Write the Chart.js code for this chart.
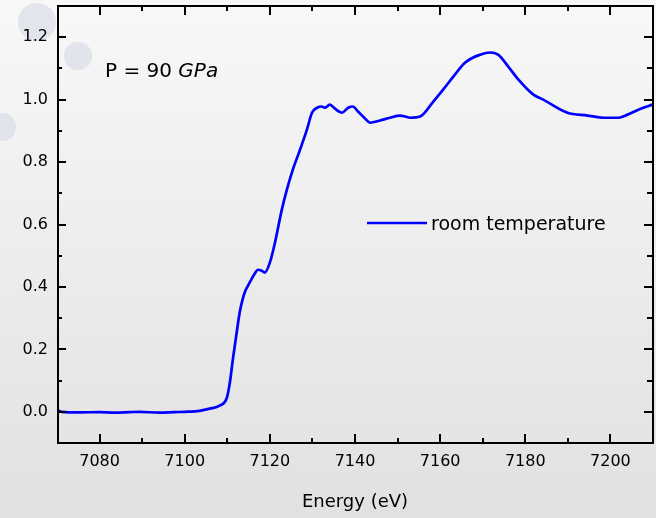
<!DOCTYPE html>
<html>
<head>
<meta charset="utf-8">
<title>XANES 90 GPa</title>
<script src="https://cdn.jsdelivr.net/npm/chart.js@4.4.1/dist/chart.umd.min.js"></script>
<style>
  html, body { margin: 0; padding: 0; }
  body { width: 656px; height: 518px; overflow: hidden; }
</style>
</head>
<body>
<canvas id="xanes" width="656" height="518"></canvas>
<script>
// -------------------- Spectrum data --------------------
const energy = [
  7070.1, 7071.1, 7075.3, 7080.0, 7083.5, 7087.1, 7089.4, 7094.1, 7097.6, 7100.0,
  7103.5, 7105.9, 7108.2, 7109.9, 7110.6, 7111.3, 7112.2, 7112.9, 7113.6, 7114.2,
  7114.9, 7115.7, 7116.5, 7117.2, 7118.1, 7118.8, 7120.0, 7121.2, 7122.8, 7124.0,
  7125.4, 7127.1, 7128.7, 7129.9, 7131.1, 7132.2, 7132.9, 7134.1, 7135.3, 7136.9,
  7138.4, 7139.5, 7140.7, 7142.4, 7143.5, 7145.9, 7148.2, 7150.6, 7151.8, 7152.9,
  7155.3, 7158.4, 7160.7, 7163.1, 7165.9, 7169.4, 7171.8, 7173.6, 7176.0, 7178.4,
  7181.9, 7184.2, 7189.9, 7194.6, 7198.4, 7201.9, 7204.0, 7207.1, 7209.9
];
const absorption = [
  0.006, 0.000, -0.002, -0.001, -0.003, -0.001, 0.000, -0.003, -0.001, 0.000,
  0.003, 0.010, 0.020, 0.045, 0.093, 0.167, 0.253, 0.317, 0.360, 0.386,
  0.405, 0.425, 0.444, 0.455, 0.452, 0.446, 0.478, 0.542, 0.647, 0.712,
  0.776, 0.840, 0.904, 0.958, 0.974, 0.978, 0.974, 0.984, 0.971, 0.958,
  0.974, 0.978, 0.962, 0.939, 0.926, 0.933, 0.942, 0.949, 0.946, 0.942,
  0.946, 0.994, 1.032, 1.074, 1.119, 1.144, 1.151, 1.144, 1.106, 1.064,
  1.016, 1.000, 0.958, 0.949, 0.942, 0.942, 0.952, 0.971, 0.984
];

// axis ticks
const xTicks = [7080, 7100, 7120, 7140, 7160, 7180, 7200];
const xMinorTicks = [7090, 7110, 7130, 7150, 7170, 7190];
const yTicks = [0.0, 0.2, 0.4, 0.6, 0.8, 1.0, 1.2];
const yMinorTicks = [0.1, 0.3, 0.5, 0.7, 0.9, 1.1];

const seriesLabel = "room temperature";
const FONT = "'DejaVu Sans', 'Noto Sans', sans-serif";


// -------------------- Background with bubbles --------------------
const backdrop = {
  id: "backdrop",
  beforeDraw(chart) {
    const { ctx, width, height } = chart;
    ctx.save();
    const g = ctx.createLinearGradient(0, 0, 0, height);
    g.addColorStop(0, "#f8f8f8");
    g.addColorStop(1, "#e1e1e1");
    ctx.fillStyle = g;
    ctx.fillRect(0, 0, width, height);

    ctx.fillStyle = "rgba(205, 212, 226, 0.5)";
    [[37, 22, 19], [78, 56, 14], [2, 127, 14]].forEach(([cx, cy, r]) => {
      ctx.beginPath();
      ctx.arc(cx, cy, r, 0, Math.PI * 2);
      ctx.fill();
    });
    ctx.restore();
  }
};


// -------------------- Box frame, inward ticks, legend, note --------------------
const frame = {
  id: "frame",
  afterDatasetsDraw(chart) {
    const { ctx, chartArea: a, scales: { x, y } } = chart;
    ctx.save();
    ctx.strokeStyle = "#000";
    ctx.lineWidth = 2;
    ctx.strokeRect(a.left + 1, a.top, a.right - a.left - 1, a.bottom - a.top);

    const tick = (x1, y1, x2, y2) => {
      ctx.beginPath();
      ctx.moveTo(x1, y1);
      ctx.lineTo(x2, y2);
      ctx.stroke();
    };
    xTicks.forEach(v => {
      const px = Math.round(x.getPixelForValue(v));
      tick(px, a.bottom, px, a.bottom - 9);
      tick(px, a.top, px, a.top + 9);
    });
    xMinorTicks.forEach(v => {
      const px = Math.round(x.getPixelForValue(v));
      tick(px, a.bottom, px, a.bottom - 5);
      tick(px, a.top, px, a.top + 5);
    });
    yTicks.forEach(v => {
      const py = Math.round(y.getPixelForValue(v));
      tick(a.left, py, a.left + 9, py);
      tick(a.right, py, a.right - 9, py);
    });
    yMinorTicks.forEach(v => {
      const py = Math.round(y.getPixelForValue(v));
      tick(a.left, py, a.left + 5, py);
      tick(a.right, py, a.right - 6, py);
    });

    // legend
    const ds = chart.data.datasets[0];
    ctx.strokeStyle = ds.borderColor;
    ctx.lineWidth = ds.borderWidth;
    tick(367, 223, 427, 223);
    ctx.fillStyle = "#000";
    ctx.font = "19px " + FONT;
    ctx.textBaseline = "alphabetic";
    ctx.fillText(ds.label, 431, 230);

    // pressure note
    ctx.font = "20px " + FONT;
    const lead = "P = 90 ";
    ctx.fillText(lead, 105, 77);
    const w = ctx.measureText(lead).width;
    ctx.font = "italic 20px " + FONT;
    ctx.fillText("GPa", 105 + w, 77);
    ctx.restore();
  }
};


// -------------------- Chart --------------------
new Chart(document.getElementById("xanes"), {
  type: "line",
  data: {
    datasets: [{
      label: seriesLabel,
      data: energy.map((e, i) => ({ x: e, y: absorption[i] })),
      borderColor: "#0000ff",
      borderWidth: 2.7,
      pointRadius: 0,
      cubicInterpolationMode: "monotone",
      fill: false
    }]
  },
  options: {
    responsive: false,
    animation: false,
    devicePixelRatio: 1,
    layout: { padding: { top: 6, right: 3, left: 0, bottom: 0 } },
    plugins: {
      legend: { display: false },
      tooltip: { enabled: false }
    },
    scales: {
      x: {
        type: "linear",
        min: 7070,
        max: 7210,
        grid: { display: false, drawTicks: false },
        border: { display: false },
        afterBuildTicks: s => { s.ticks = xTicks.map(v => ({ value: v })); },
        afterFit: s => { s.height = 75; s.paddingLeft = 0; s.paddingRight = 0; },
        ticks: {
          padding: 9,
          color: "#000",
          font: { family: FONT, size: 16 },
          callback: v => String(v)
        },
        title: {
          display: true,
          text: "Energy (eV)",
          color: "#000",
          font: { family: FONT, size: 18 },
          padding: { top: 4, bottom: 5 }
        }
      },
      y: {
        min: -0.1,
        max: 1.3,
        grid: { display: false, drawTicks: false },
        border: { display: false },
        afterBuildTicks: s => { s.ticks = yTicks.map(v => ({ value: v })); },
        afterFit: s => { s.width = 57; s.paddingTop = 0; s.paddingBottom = 0; },
        ticks: {
          padding: 9,
          color: "#000",
          font: { family: FONT, size: 16 },
          callback: v => v.toFixed(1)
        }
      }
    }
  },
  plugins: [backdrop, frame]
});
</script>
</body>
</html>
